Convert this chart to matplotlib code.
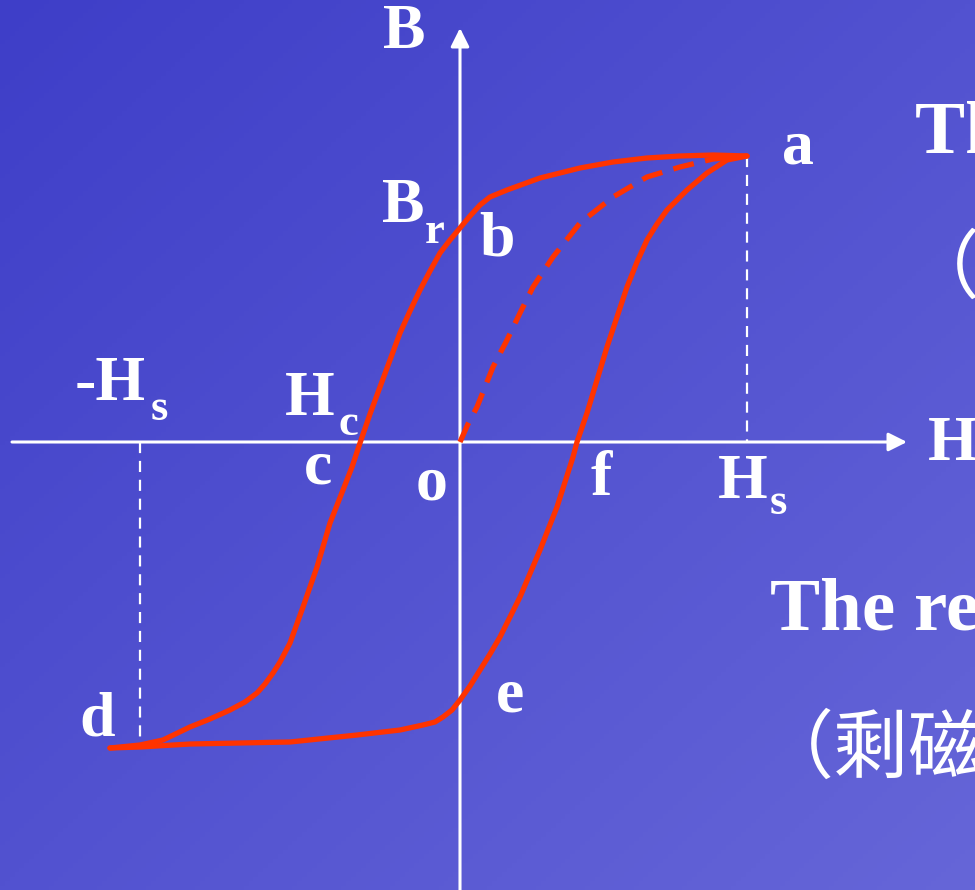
import numpy as np
import matplotlib
matplotlib.use("Agg")
from matplotlib import pyplot as plt

# hysteresis loop, coordinates relative to origin o (H right, B up)
upper_h = [287, 253, 220, 187, 153, 120, 80, 47, 30, 20, 10, 0, -10, -20, -30, -40, -50, -60, -70, -80, -90,
           -100, -108, -117, -130, -143, -157, -170, -180, -187, -195, -203, -215, -230, -250, -270, -297, -320, -350]
upper_b = [286, 287, 286, 284, 280, 274, 264, 252, 245, 237, 226, 214, 202, 189, 171, 152, 131, 109, 82, 55, 28,
           -1, -25, -48, -81, -125, -165, -201, -220, -231, -242, -251, -260, -268, -277, -285, -298, -303, -306]

lower_h = [-350, -320, -270, -220, -170, -103, -60, -37, -25, -17, -8, 0, 10, 20, 30, 40, 60, 80, 97, 113, 117,
           127, 137, 147, 157, 167, 177, 187, 197, 207, 227, 247, 267, 287]
lower_b = [-306, -305, -302, -301, -300, -293, -288, -283, -280, -275, -268, -258, -244, -228, -212, -195, -155, -108, -65, -15, 0,
           29, 62, 95, 125, 155, 180, 202, 218, 232, 252, 269, 282, 286]

init_h = [0, 8, 17, 25, 33, 47, 60, 73, 93, 120, 153, 187, 220, 253, 287]
init_b = [0, 18, 35, 55, 75, 102, 129, 155, 185, 219, 245, 265, 275, 283, 286]

Hs = 287
neg_Hs = -320
Bs = 286
Bd = -306

serif = "Liberation Serif"
cjk = ["Noto Sans CJK SC", "DejaVu Sans"]

fig = plt.figure(figsize=(9.75, 8.9), dpi=100)
ax = fig.add_axes([0, 0, 1, 1])
ax.set_xlim(-460, 515)
ax.set_ylim(-448, 442)
ax.axis("off")

# blue diagonal gradient background
gx, gy = np.meshgrid(np.linspace(0, 1, 200), np.linspace(0, 1, 200))
t = (gx + gy) / 2
c0 = np.array([62, 62, 200]) / 255
c1 = np.array([102, 102, 216]) / 255
img = c0[None, None, :] * (1 - t[..., None]) + c1[None, None, :] * t[..., None]
ax.imshow(img, extent=(-460, 515, -448, 442), origin="upper", aspect="auto", zorder=0)

# axes with arrows
ax.annotate("", xy=(447, 0), xytext=(-448, 0),
            arrowprops=dict(arrowstyle="-|>", color="white", lw=2.2, mutation_scale=28,
                            shrinkA=0, shrinkB=0), zorder=2)
ax.annotate("", xy=(0, 414), xytext=(0, -448),
            arrowprops=dict(arrowstyle="-|>", color="white", lw=2.2, mutation_scale=28,
                            shrinkA=0, shrinkB=0), zorder=2)

# saturation guides
ax.plot([Hs, Hs], [Bs, 0], color="white", lw=1.6, ls=(0, (5, 3.5)), zorder=2)
ax.plot([neg_Hs, neg_Hs], [0, Bd + 2], color="white", lw=1.6, ls=(0, (5, 3.5)), zorder=2)

red = "#ff3300"
ax.plot(upper_h, upper_b, color=red, lw=3.8, solid_joinstyle="round", solid_capstyle="round", zorder=3)
ax.plot(lower_h, lower_b, color=red, lw=3.8, solid_joinstyle="round", solid_capstyle="round", zorder=3)
ax.plot(init_h, init_b, color=red, lw=3.8, ls=(0, (4, 2.2)), zorder=3)

def lab(x, y, s, size=46, ha="center"):
    ax.text(x, y, s, fontsize=size, family=serif, weight="bold", color="white",
            ha=ha, va="center", zorder=4)

lab(-56, 409, "B")
lab(338, 294, "a")
lab(-57, 235, "B")
lab(-25, 210, "r", size=32)
lab(37, 202, "b")
lab(-350, 57, "-H")
lab(-301, 33, "s", size=32)
lab(-150, 42, "H")
lab(-112, 18, "c", size=32)
lab(-142, -26, "c")
lab(-28, -43, "o")
lab(141, -38, "f")
lab(283, -41, "H")
lab(318, -61, "s", size=32)
lab(468, -3, "H", ha="left")
lab(-363, -278, "d")
lab(50, -255, "e")

# side notes (run off the right edge)
ax.text(455, 307, "The saturation point", fontsize=54, family=serif, weight="bold",
        color="white", ha="left", va="center", zorder=4)
ax.text(445, 172, "（饱和磁感应强度）", fontsize=54, family=cjk,
        color="white", ha="left", va="center", zorder=4)
ax.text(310, -170, "The remanence", fontsize=54, family=serif, weight="bold",
        color="white", ha="left", va="center", zorder=4)
ax.text(299, -308, "（剩磁）", fontsize=54, family=cjk,
        color="white", ha="left", va="center", zorder=4)

plt.savefig("out.png", dpi=100)
